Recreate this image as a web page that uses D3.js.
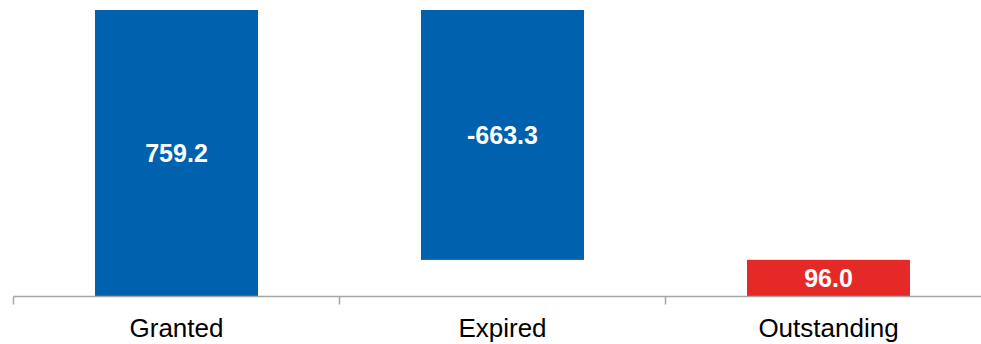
<!DOCTYPE html>
<html>
<head>
<meta charset="utf-8">
<script src="https://cdn.jsdelivr.net/npm/d3@7"></script>
<style>
  html, body { margin: 0; padding: 0; background: #fff; }
  svg { display: block; font-family: "Liberation Sans", Arial, sans-serif; }
</style>
</head>
<body>
<svg id="chart" width="981" height="344"></svg>
<script>
// Waterfall steps: each category's change and whether it is a total bar
const categories = ["Granted", "Expired", "Outstanding"];
const changes = [759.2, -663.3, 96.0];
const isTotal = [false, false, true];
const valueLabels = ["759.2", "-663.3", "96.0"];
const barColors = ["#0061AE", "#0061AE", "#E52927"];

// Build start/end positions of each floating bar
let running = 0;
const bars = categories.map((c, i) => {
  let start, end;
  if (isTotal[i]) { start = 0; end = changes[i]; running = end; }
  else { start = running; end = running + changes[i]; running = end; }
  return { cat: c, start, end, label: valueLabels[i], color: barColors[i] };
});

const svg = d3.select("#chart");
const x = d3.scaleBand().domain(categories).range([13.5, 991.5]).paddingInner(0).paddingOuter(0);
const y = d3.scaleLinear().domain([0, 759.2]).range([296, 10]);

const bw = x.bandwidth() * 0.5;

// Bars
svg.selectAll("rect.bar").data(bars).enter().append("rect")
  .attr("class", "bar")
  .attr("x", d => x(d.cat) + (x.bandwidth() - bw) / 2)
  .attr("width", bw)
  .attr("y", d => y(Math.max(d.start, d.end)))
  .attr("height", d => Math.abs(y(d.start) - y(d.end)))
  .attr("fill", d => d.color);

// Value labels centred inside each bar
svg.selectAll("text.val").data(bars).enter().append("text")
  .attr("class", "val")
  .attr("x", d => x(d.cat) + x.bandwidth() / 2)
  .attr("y", d => (y(d.start) + y(d.end)) / 2)
  .attr("dy", "0.36em")
  .attr("text-anchor", "middle")
  .attr("fill", "#fff")
  .attr("font-weight", "bold")
  .attr("font-size", 25)
  .text(d => d.label);

// Category axis with ticks between bands
const axisG = svg.append("g").attr("transform", `translate(0,${y(0) + 0.5})`);
axisG.append("line")
  .attr("x1", x.range()[0]).attr("x2", x.range()[1])
  .attr("stroke", "#A6A6A6").attr("stroke-width", 1.5);
const tickPos = categories.map(c => x(c)).concat([x.range()[1]]);
axisG.selectAll("line.tick").data(tickPos).enter().append("line")
  .attr("class", "tick")
  .attr("x1", d => d).attr("x2", d => d)
  .attr("y1", 0).attr("y2", 8)
  .attr("stroke", "#A6A6A6").attr("stroke-width", 1.5);
axisG.selectAll("text.cat").data(categories).enter().append("text")
  .attr("class", "cat")
  .attr("x", d => x(d) + x.bandwidth() / 2)
  .attr("y", 40.5)
  .attr("text-anchor", "middle")
  .attr("fill", "#000")
  .attr("font-size", 26)
  .text(d => d);
</script>
</body>
</html>
